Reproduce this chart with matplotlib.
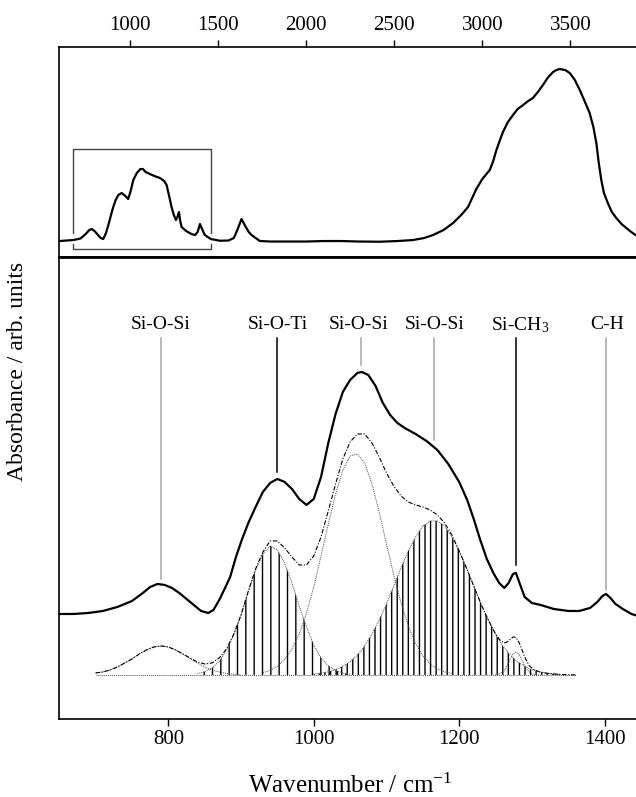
import numpy as np
import matplotlib
matplotlib.use('Agg')
import matplotlib.pyplot as plt

# ---- full spectrum (top panel) ----
full_wn = [600, 640, 680, 720, 750, 770, 784, 800, 820, 835, 849, 865, 880, 895, 906, 920, 935, 954,
           975, 991, 1005, 1020, 1040, 1060, 1075, 1090, 1114, 1140, 1171, 1195, 1209, 1222, 1237,
           1250, 1262, 1270, 1279, 1286, 1294, 1320, 1350, 1370, 1385, 1398, 1410, 1426, 1460, 1511,
           1560, 1590, 1610, 1634, 1655, 1675, 1691, 1738, 1800, 1900, 2000, 2100, 2200, 2300, 2417,
           2520, 2607, 2670, 2720, 2780, 2834, 2880, 2919, 2945, 2966, 3000, 3042, 3060, 3080, 3100,
           3117, 3145, 3174, 3200, 3231, 3260, 3287, 3315, 3344, 3370, 3401, 3420, 3439, 3470, 3496,
           3525, 3553, 3580, 3609, 3630, 3647, 3660, 3675, 3690, 3712, 3735, 3760, 3790, 3817, 3845,
           3869, 3900]
full_abs = [0.16, 0.165, 0.17, 0.185, 0.23, 0.27, 0.28, 0.26, 0.22, 0.19, 0.18, 0.24, 0.33, 0.43, 0.50,
            0.57, 0.62, 0.64, 0.61, 0.58, 0.66, 0.77, 0.84, 0.88, 0.88, 0.85, 0.83, 0.81, 0.79, 0.76,
            0.72, 0.62, 0.50, 0.42, 0.37, 0.40, 0.45, 0.36, 0.30, 0.26, 0.23, 0.22, 0.25, 0.33, 0.28,
            0.22, 0.18, 0.163, 0.165, 0.19, 0.27, 0.38, 0.31, 0.25, 0.22, 0.16, 0.155, 0.155, 0.155,
            0.16, 0.16, 0.155, 0.153, 0.16, 0.17, 0.19, 0.22, 0.27, 0.34, 0.42, 0.50, 0.60, 0.68, 0.78,
            0.87, 0.95, 1.07, 1.17, 1.25, 1.35, 1.42, 1.48, 1.52, 1.56, 1.59, 1.65, 1.72, 1.79, 1.85,
            1.87, 1.88, 1.87, 1.84, 1.77, 1.67, 1.56, 1.44, 1.30, 1.14, 0.95, 0.77, 0.64, 0.54, 0.45,
            0.39, 0.33, 0.29, 0.25, 0.22, 0.20]
zoom_box_x = [680, 1460]

# ---- measured spectrum (bottom panel) ----
wn = [650, 670, 690, 710, 730, 750, 765, 775, 785, 795, 805, 815, 825, 835, 845, 855, 862, 870, 878,
      885, 893, 901, 910, 920, 930, 940, 950, 960, 970, 980, 990, 1000, 1010, 1020, 1030, 1040, 1050,
      1060, 1066, 1075, 1085, 1095, 1105, 1115, 1125, 1140, 1155, 1170, 1185, 1200, 1211, 1220, 1229,
      1238, 1247, 1255, 1262, 1268, 1274, 1278, 1283, 1290, 1300, 1312, 1330, 1350, 1365, 1380, 1390,
      1397, 1402, 1408, 1415, 1425, 1437, 1450]
absorb = [1.05, 1.05, 1.06, 1.08, 1.12, 1.18, 1.26, 1.32, 1.35, 1.34, 1.31, 1.26, 1.20, 1.14, 1.08,
          1.06, 1.09, 1.19, 1.31, 1.42, 1.62, 1.79, 1.96, 2.12, 2.27, 2.36, 2.40, 2.37, 2.30, 2.20,
          2.14, 2.20, 2.42, 2.76, 3.05, 3.27, 3.39, 3.46, 3.47, 3.44, 3.33, 3.16, 3.04, 2.96, 2.91,
          2.85, 2.78, 2.69, 2.55, 2.37, 2.19, 2.00, 1.79, 1.60, 1.46, 1.36, 1.31, 1.36, 1.45, 1.46,
          1.36, 1.22, 1.16, 1.14, 1.10, 1.08, 1.08, 1.11, 1.17, 1.23, 1.25, 1.21, 1.15, 1.10, 1.05, 1.02]

# ---- fitted bands (heights above the fit baseline) ----
fit_base = 0.44
base_x = [700, 1360]
b1_x = [700, 710, 720, 730, 740, 750, 760, 770, 780, 790, 800, 810, 820, 830, 840, 850, 860, 870,
        880, 890, 900]
b1_y = [0.02, 0.03, 0.05, 0.08, 0.12, 0.16, 0.21, 0.25, 0.28, 0.29, 0.28, 0.25, 0.21, 0.16, 0.12,
        0.08, 0.05, 0.03, 0.015, 0.008, 0.0]
b2_x = [840, 850, 860, 870, 880, 890, 900, 910, 920, 930, 940, 950, 960, 970, 980, 990, 1000, 1010,
        1020, 1030, 1040, 1050]
b2_y = [0.014, 0.033, 0.07, 0.137, 0.245, 0.40, 0.60, 0.83, 1.05, 1.21, 1.29, 1.25, 1.12, 0.92, 0.69,
        0.48, 0.30, 0.17, 0.093, 0.045, 0.02, 0.008]
b3_x = [930, 940, 950, 960, 970, 980, 990, 1000, 1010, 1020, 1030, 1040, 1050, 1060, 1070, 1080,
        1090, 1100, 1110, 1120, 1130, 1140, 1150, 1160, 1170, 1180, 1190]
b3_y = [0.023, 0.046, 0.087, 0.154, 0.26, 0.41, 0.62, 0.88, 1.19, 1.51, 1.81, 2.05, 2.19, 2.21, 2.12,
        1.91, 1.63, 1.31, 1.00, 0.72, 0.49, 0.315, 0.19, 0.11, 0.06, 0.03, 0.015]
b4_x = [1000, 1010, 1020, 1030, 1040, 1050, 1060, 1070, 1080, 1090, 1100, 1110, 1120, 1130, 1140,
        1150, 1160, 1170, 1180, 1190, 1200, 1210, 1220, 1230, 1240, 1250, 1260, 1270, 1280, 1290,
        1300, 1310, 1320, 1330, 1340]
b4_y = [0.01, 0.018, 0.032, 0.053, 0.086, 0.134, 0.20, 0.29, 0.41, 0.55, 0.71, 0.89, 1.07, 1.24, 1.38,
        1.49, 1.54, 1.54, 1.49, 1.38, 1.24, 1.07, 0.89, 0.71, 0.55, 0.41, 0.29, 0.20, 0.134, 0.086,
        0.053, 0.032, 0.018, 0.01, 0.005]
b5_x = [1250, 1256, 1262, 1266, 1270, 1274, 1278, 1282, 1286, 1290, 1294, 1300, 1306, 1310]
b5_y = [0.002, 0.012, 0.047, 0.095, 0.155, 0.208, 0.23, 0.208, 0.155, 0.095, 0.047, 0.012, 0.002, 0.0]
sum_x = [700, 710, 720, 730, 740, 750, 760, 770, 780, 790, 800, 810, 820, 830, 840, 850, 860, 870,
         880, 890, 900, 910, 920, 930, 940, 950, 960, 970, 980, 990, 1000, 1010, 1020, 1030, 1040,
         1050, 1060, 1070, 1080, 1090, 1100, 1110, 1120, 1130, 1140, 1150, 1160, 1170, 1180, 1190,
         1200, 1210, 1220, 1230, 1240, 1250, 1256, 1262, 1266, 1270, 1274, 1278, 1282, 1286, 1290,
         1296, 1302, 1310, 1320, 1330, 1340, 1350, 1360]
sum_y = [0.02, 0.03, 0.05, 0.08, 0.12, 0.16, 0.21, 0.25, 0.28, 0.29, 0.28, 0.25, 0.21, 0.17, 0.13,
         0.11, 0.12, 0.17, 0.26, 0.41, 0.60, 0.84, 1.06, 1.23, 1.34, 1.34, 1.27, 1.18, 1.10, 1.10,
         1.19, 1.38, 1.64, 1.91, 2.16, 2.33, 2.41, 2.41, 2.32, 2.18, 2.02, 1.89, 1.79, 1.73, 1.70,
         1.68, 1.65, 1.60, 1.52, 1.40, 1.24, 1.07, 0.89, 0.71, 0.55, 0.41, 0.35, 0.32, 0.33, 0.355,
         0.38, 0.376, 0.33, 0.26, 0.18, 0.096, 0.056, 0.032, 0.018, 0.01, 0.005, 0.002, 0.001]

# ---- band assignments ----
ann_labels = ['Si-O-Si', 'Si-O-Ti', 'Si-O-Si', 'Si-O-Si', 'Si-CH$_3$', 'C-H']
ann_x = [790, 950, 1065, 1165, 1278, 1402]
ann_text_x = [789, 950, 1062, 1166, 1284, 1403]
ann_end = [1.40, 2.47, 3.54, 2.79, 1.54, 1.29]
ann_color = ['#a6a6a6', 'black', '#a6a6a6', '#a6a6a6', 'black', '#a6a6a6']

plt.rcParams['font.family'] = ['Liberation Serif', 'DejaVu Serif']
plt.rcParams['mathtext.default'] = 'regular'
plt.rcParams['hatch.linewidth'] = 1.0

fig = plt.figure(figsize=(6.36, 7.97), dpi=100)
ax_top = fig.add_axes([0.0932, 0.6775, 0.9146, 0.2635])
ax = fig.add_axes([0.0932, 0.0979, 0.9146, 0.5797])

# top panel
ax_top.plot(full_wn, full_abs, color='black', linewidth=1.6)
bx0, bx1 = zoom_box_x
ax_top.plot([bx0, bx0, bx1, bx1], [0.24, 1.08, 1.08, 0.24], color='#444444', linewidth=1.0)
ax_top.plot([bx0, bx0, bx1, bx1], [0.13, 0.08, 0.08, 0.13], color='#444444', linewidth=1.0)
ax_top.set_xlim(600, 3900)
ax_top.set_ylim(0, 2.1)
ax_top.set_xticks([1000, 1500, 2000, 2500, 3000, 3500])
ax_top.xaxis.tick_top()
ax_top.tick_params(axis='x', direction='out', length=5, width=1, labelsize=15, pad=4)
ax_top.set_yticks([])
ax_top.spines['right'].set_visible(False)
ax_top.spines['bottom'].set_linewidth(2.0)
for s in ['top', 'left']:
    ax_top.spines[s].set_linewidth(1.2)

# bottom panel
ax.plot(wn, absorb, color='black', linewidth=1.6)
ax.plot(base_x, [fit_base, fit_base], color='0.3', linewidth=0.7, linestyle=(0, (1, 1)))
ax.fill_between(b2_x, fit_base, np.array(b2_y) + fit_base, facecolor='none',
                edgecolor='black', hatch='||', linewidth=0)
ax.fill_between(b4_x, fit_base, np.array(b4_y) + fit_base, facecolor='none',
                edgecolor='black', hatch='|||', linewidth=0)
for bx, by in [(b1_x, b1_y), (b2_x, b2_y), (b3_x, b3_y), (b4_x, b4_y), (b5_x, b5_y)]:
    ax.plot(bx, np.array(by) + fit_base, color='0.3', linewidth=0.7, linestyle=(0, (1, 1)))
ax.plot(sum_x, np.array(sum_y) + fit_base, color='black', linewidth=0.8,
        linestyle=(0, (4, 1.5, 1, 1.5)))

for lab, xl, xt, ye, c in zip(ann_labels, ann_x, ann_text_x, ann_end, ann_color):
    ax.plot([xl, xl], [3.81, ye], color=c, linewidth=1.1)
    ax.text(xt, 3.94, lab, ha='center', va='center', fontsize=14)

ax.set_xlim(650, 1450)
ax.set_ylim(0, 4.62)
ax.set_xticks([800, 1000, 1200, 1400])
ax.tick_params(axis='x', direction='out', length=5, width=1, labelsize=15, pad=3)
ax.set_yticks([])
ax.spines['right'].set_visible(False)
ax.spines['top'].set_linewidth(2.0)
for s in ['bottom', 'left']:
    ax.spines[s].set_linewidth(1.2)
ax.set_xlabel('Wavenumber / cm$^{-1}$', fontsize=18, labelpad=18)

fig.text(0.027, 1 - 371 / 797, 'Absorbance / arb. units', rotation=90,
         ha='center', va='center', fontsize=17)

plt.savefig('out.png', dpi=100)
